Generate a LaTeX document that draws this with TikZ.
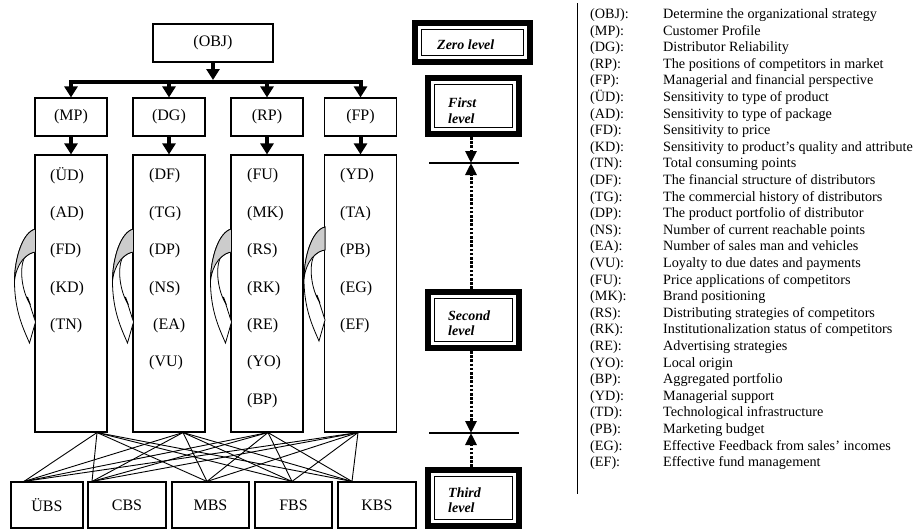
\documentclass[tikz,border=0pt]{standalone}
\usepackage{fontspec}
\setmainfont{Liberation Serif}
\usetikzlibrary{arrows.meta}
\tikzset{
 box/.style={draw, line width=1.1pt, inner sep=0pt, font=\fontsize{16}{18}\selectfont},
 item/.style={anchor=west, inner sep=0pt, font=\fontsize{16}{18}\selectfont},
 bigarr/.style={line width=4pt, -{Triangle[width=13pt,length=11pt]}},
 busline/.style={line width=4.5pt, line cap=rect},
 conn/.style={line width=0.9pt},
 lvlout/.style={draw, line width=6pt, inner sep=0pt},
 lvlin/.style={draw, line width=1.2pt, inner sep=0pt},
 lvltext/.style={anchor=west, align=left, inner sep=0pt, font=\fontsize{14}{15.5}\selectfont\bfseries\itshape},
 dotarr/.style={line width=3pt, dash pattern=on 2.6pt off 1.6pt, -{Triangle[width=11pt,length=12pt]}},
 hline/.style={line width=1.1pt},
 leg/.style={anchor=base west, inner sep=0pt, font=\fontsize{14.2}{16}\selectfont},
 curv/.pic={
  \draw[line width=0.8pt, fill=white] (0,0) .. controls (-13,3) and (-21,30) .. (-21,52)
    .. controls (-21,82) and (-12,100) .. (-6,114) -- (0,93) -- (-8,68) -- (-5,76)
    .. controls (-14,62) and (-16,40) .. (-11.5,29.5)
    .. controls (-8.1,25.7) and (-4.05,23.45) .. (0,23) -- cycle;
  \draw[line width=0.8pt, fill=black!20] (0,0) .. controls (-13,3) and (-21,30) .. (-21,52)
    .. controls (-19,34) and (-9,24) .. (0,23) -- cycle;
 }
}
\begin{document}
\begin{tikzpicture}[x=1pt,y=-1pt]
\useasboundingbox (0,0) rectangle (914,530);

% top
\node[box, minimum width=120pt, minimum height=38pt] (OBJ) at (213,43) {(OBJ)};
\coordinate (busO) at (213,80);
\foreach \n/\x in {MP/71, DG/169, RP/267, FP/360.5} {
  \node[box, minimum width=72pt, minimum height=38pt] (\n) at (\x,117) {(\n)};
  \node[box, minimum width=72pt, minimum height=277pt] (\n2) at (\x,293.5) {};
  \coordinate (bus\n) at (\x,82);
}
\draw[busline] (busMP) -- (busFP);
\draw[bigarr] (OBJ.south) -- (busO);
\foreach \n in {MP,DG,RP,FP} {
  \draw[bigarr] (bus\n) -- (\n.north);
  \draw[bigarr] (\n.south) -- (\n2.north);
}

% items
\foreach \t [count=\i from 0] in {ÜD,AD,FD,KD,TN}
  \node[item] (mpi\i) at (50,{176+37.4*\i}) {(\t)};
\foreach \t [count=\i from 0] in {DF,TG,DP,NS}
  \node[item] (dgi\i) at (149,{176+37.4*\i}) {(\t)};
\node[item] (dgi4) at (153,{176+37.4*4}) {(EA)};
\node[item] (dgi5) at (149,{176+37.4*5}) {(VU)};
\foreach \t [count=\i from 0] in {FU,MK,RS,RK,RE,YO,BP}
  \node[item] (rpi\i) at (247,{176+37.4*\i}) {(\t)};
\foreach \t [count=\i from 0] in {YD,TA,PB,EG,EF}
  \node[item] (fpi\i) at (340,{176+37.4*\i}) {(\t)};

% curved arrows
\pic at (35.5,229) {curv};
\pic at (133.5,229) {curv};
\pic at (231.5,229) {curv};
\pic at (325,227) {curv};

% bottom boxes
\foreach \n/\t/\x/\w in {UBS/ÜBS/47/72, CBS/CBS/127/78, MBS/MBS/210.5/77, FBS/FBS/293.5/77, KBS/KBS/377/78}
  \node[box, minimum width=\w pt, minimum height=46pt] (\n) at (\x,505) {\t};

\coordinate (s1) at ([xshift=26pt]MP2.south);
\coordinate (s2) at ([xshift=14pt]DG2.south);
\coordinate (s3) at ([xshift=1pt]RP2.south);
\coordinate (s4) at ([xshift=-2.5pt]FP2.south);
\coordinate (e1) at ([xshift=-23pt]UBS.north);
\coordinate (e2) at ([xshift=-35pt]CBS.north);
\coordinate (e3) at ([xshift=-3.5pt]MBS.north);
\coordinate (e4) at ([xshift=-1.5pt]FBS.north);
\coordinate (e5) at ([xshift=-25pt]KBS.north);
\foreach \s in {s1,s2,s3,s4}
  \foreach \e in {e1,e2,e3,e4,e5}
    \draw[conn] (\s) -- (\e);

% levels
\node[lvlout, minimum width=115pt, minimum height=39pt] (zero) at (472.5,42.5) {};
\node[lvlin, minimum width=102pt, minimum height=26pt] (zeroin) at (zero) {};
\node[lvltext] (zerot) at (437,45) {Zero level};

\node[lvlout, minimum width=91pt, minimum height=56pt] (first) at (473.5,106) {};
\node[lvlin, minimum width=78pt, minimum height=43pt] (firstin) at (first) {};
\node[lvltext] (firstt) at (448,110.5) {First\\level};

\node[lvlout, minimum width=91pt, minimum height=56pt] (second) at (473.5,320) {};
\node[lvlin, minimum width=78pt, minimum height=43pt] (secondin) at (second) {};
\node[lvltext] (secondt) at (448,323) {Second\\level};

\node[lvlout, minimum width=91pt, minimum height=56pt] (third) at (473.5,498) {};
\node[lvlin, minimum width=78pt, minimum height=43pt] (thirdin) at (third) {};
\node[lvltext] (thirdt) at (448,500) {Third\\level};

\coordinate (h1) at (471,163);
\coordinate (h1L) at (429,163);
\coordinate (h1R) at (519,163);
\coordinate (h2) at (471,433);
\coordinate (h2L) at (429,433);
\coordinate (h2R) at (519,433);
\draw[hline] (h1L) -- (h1R);
\draw[hline] (h2L) -- (h2R);
\draw[dotarr] ([xshift=-2.5pt]first.south) -- (h1);
\draw[dotarr] ([xshift=-2.5pt]second.north) -- (h1);
\draw[dotarr] ([xshift=-2.5pt]second.south) -- (h2);
\draw[dotarr] ([xshift=-2.5pt]third.north) -- (h2);

% legend
\coordinate (vt) at (577,3);
\coordinate (vb) at (577,494);
\draw[line width=1pt] (vt) -- (vb);
\foreach \c/\d [count=\i from 0] in {
 OBJ/Determine the organizational strategy,
 MP/Customer Profile,
 DG/Distributor Reliability,
 RP/The positions of competitors in market,
 FP/Managerial and financial perspective,
 ÜD/Sensitivity to type of product,
 AD/Sensitivity to type of package,
 FD/Sensitivity to price,
 KD/Sensitivity to product’s quality and attribute,
 TN/Total consuming points,
 DF/The financial structure of distributors,
 TG/The commercial history of distributors,
 DP/The product portfolio of distributor,
 NS/Number of current reachable points,
 EA/Number of sales man and vehicles,
 VU/Loyalty to due dates and payments,
 FU/Price applications of competitors,
 MK/Brand positioning,
 RS/Distributing strategies of competitors,
 RK/Institutionalization status of competitors,
 RE/Advertising strategies,
 YO/Local origin,
 BP/Aggregated portfolio,
 YD/Managerial support,
 TD/Technological infrastructure,
 PB/Marketing budget,
 EG/Effective Feedback from sales’ incomes,
 EF/Effective fund management} {
  \node[leg] (lc\i) at (590,{18.5+16.6*\i}) {(\c):};
  \node[leg] (ld\i) at (663,{18.5+16.6*\i}) {\d};
}
\end{tikzpicture}
\end{document}
